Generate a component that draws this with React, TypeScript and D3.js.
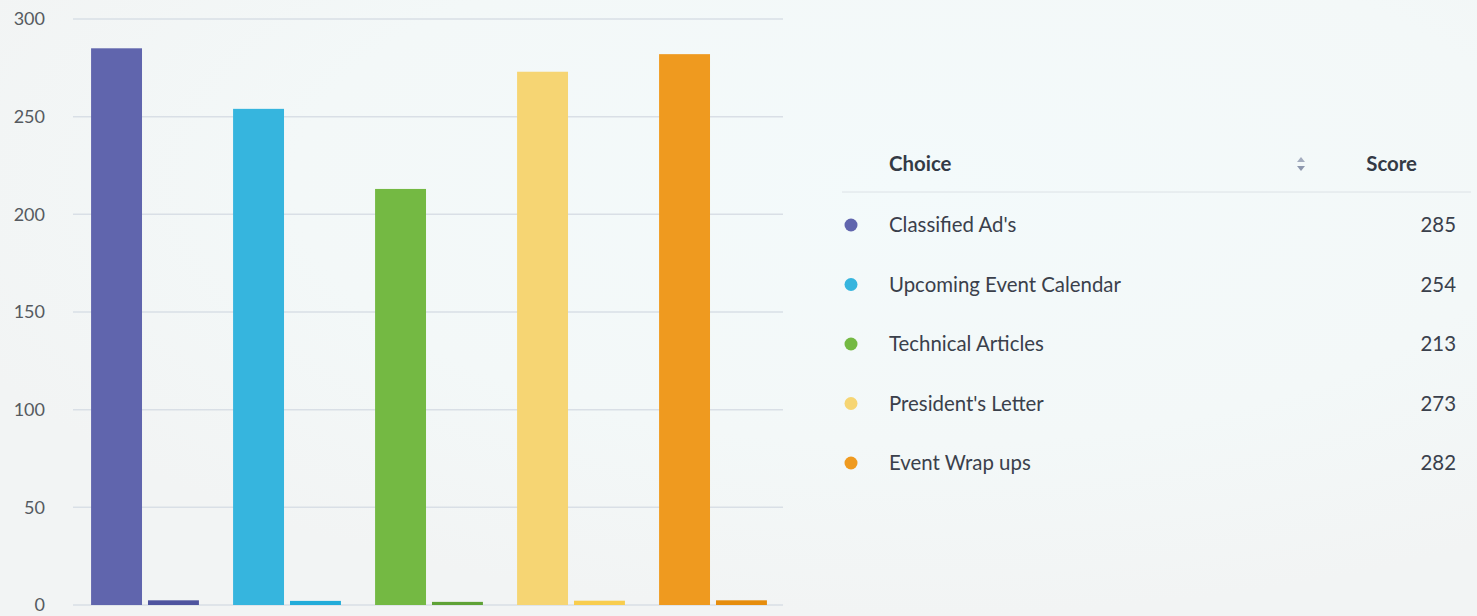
import React from "react";
import * as d3 from "d3";

const categories = ["Classified Ad's", "Upcoming Event Calendar", "Technical Articles", "President's Letter", "Event Wrap ups"];
const scores = [285, 254, 213, 273, 282];
const secondary = [2.4, 2.1, 1.6, 2.2, 2.4];
const yTicks = [0, 50, 100, 150, 200, 250, 300];
const colors = ["#6065ad", "#36b5de", "#74b943", "#f6d573", "#ef9a1f"];
const colorsDark = ["#4f549f", "#22acd9", "#5fa236", "#f8cd4e", "#e68d0d"];

const W = 1477;
const H = 616;
const font = "Lato, 'Open Sans', sans-serif";
const tableFont = 20.4;

export default function App() {
  const x0 = d3.scaleBand<number>().domain(d3.range(categories.length)).range([74, 784]).padding(0);
  const x1 = d3.scaleBand<string>().domain(["a", "b"]).range([0, x0.bandwidth()]).paddingInner(0.105).paddingOuter(0.3);
  const y = d3.scaleLinear().domain([0, 300]).range([605, 19]);

  const rowY = d3.scalePoint<number>().domain(d3.range(categories.length)).range([225, 463]);

  return (
    <svg width={W} height={H} style={{ position: "absolute", left: 0, top: 0, fontFamily: font }}>
      <defs>
        <radialGradient id="bg" cx="0.62" cy="0.3" r="0.7">
          <stop offset="0" stopColor="#f3fafb" />
          <stop offset="0.6" stopColor="#f3f8f8" />
          <stop offset="1" stopColor="#f2f4f4" />
        </radialGradient>
      </defs>
      <rect x={0} y={0} width={W} height={H} fill="url(#bg)" />
      {yTicks.map((t) => (
        <g key={t}>
          <line x1={73} x2={783} y1={y(t)} y2={y(t)} stroke="#d9dfe6" strokeWidth={1.5} />
          <text x={45} y={y(t)} dy="0.35em" textAnchor="end" fontSize={18} fill="#555a60">
            {t}
          </text>
        </g>
      ))}
      {categories.map((c, i) => (
        <g key={c} transform={`translate(${x0(i)},0)`}>
          <rect x={x1("a")} y={y(scores[i])} width={x1.bandwidth()} height={y(0) - y(scores[i])} fill={colors[i]} />
          <rect x={x1("b")} y={y(secondary[i])} width={x1.bandwidth()} height={y(0) - y(secondary[i])} fill={colorsDark[i]} />
        </g>
      ))}
      <text x={889} y={164} dy="0.35em" fontSize={tableFont} fontWeight={700} fill="#333a45">Choice</text>
      <path d="M1297,162 L1301,157 L1305,162 Z" fill="#a4adbf" />
      <path d="M1297,166 L1301,171 L1305,166 Z" fill="#8d97ad" />
      <text x={1417} y={164} dy="0.35em" textAnchor="end" fontSize={tableFont} fontWeight={700} fill="#333a45">Score</text>
      <line x1={842} x2={1471} y1={192} y2={192} stroke="#dce2e6" strokeWidth={1} />
      {categories.map((c, i) => (
        <g key={c}>
          <circle cx={851} cy={rowY(i)} r={6.5} fill={colors[i]} />
          <text x={889} y={rowY(i)} dy="0.35em" fontSize={tableFont} fill="#3a404b">{c}</text>
          <text x={1456} y={rowY(i)} dy="0.35em" textAnchor="end" fontSize={tableFont} fill="#3a404b">{scores[i]}</text>
        </g>
      ))}
    </svg>
  );
}
